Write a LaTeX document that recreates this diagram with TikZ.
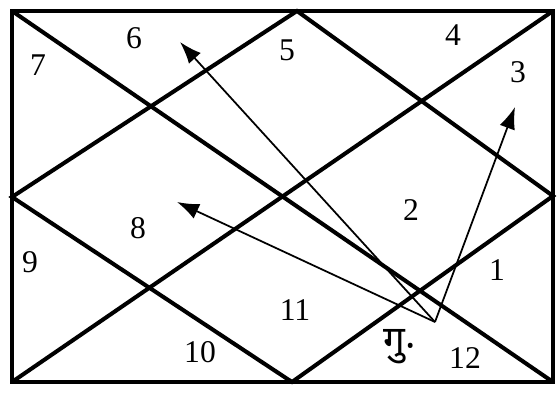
\documentclass[tikz,border=0pt]{standalone}
\usepackage{fontspec}
\setmainfont{Liberation Serif}
\newfontfamily\devfont[Script=Devanagari]{Noto Sans}
\usetikzlibrary{arrows.meta}
\begin{document}
\begin{tikzpicture}[
    chart/.style={line width=2.3pt},
    house/.style={font=\fontsize{18}{20}\selectfont},
    aspect/.style={line width=1pt,-{Latex[length=4.4mm,width=3.2mm]}}]
            \useasboundingbox (0,0) rectangle (11.16,7.86);
            \coordinate (tl) at (0.24,7.64);
            \coordinate (tr) at (11.06,7.64);
            \coordinate (bl) at (0.24,0.22);
            \coordinate (br) at (11.06,0.22);
            \coordinate (tm) at (5.94,7.64);
            \coordinate (bm) at (5.84,0.22);
            \coordinate (lm) at (0.24,3.92);
            \coordinate (rm) at (11.06,3.94);
            \draw[chart,line width=2.7pt] (tl) rectangle (br);
            \draw[chart] (tl) -- (br);
            \draw[chart] (bl) -- (tr);
            \draw[chart] (tm) -- (rm) -- (bm) -- (lm) -- cycle;
            \node[house] (h1) at (9.94,2.46) {1};
            \node[house] (h2) at (8.22,3.66) {2};
            \node[house] (h3) at (10.36,6.42) {3};
            \node[house] (h4) at (9.06,7.16) {4};
            \node[house] (h5) at (5.74,6.86) {5};
            \node[house] (h6) at (2.68,7.10) {6};
            \node[house] (h7) at (0.76,6.56) {7};
            \node[house] (h8) at (2.76,3.30) {8};
            \node[house] (h9) at (0.60,2.62) {9};
            \node[house] (h10) at (4.00,0.82) {10};
            \node[house] (h11) at (5.90,1.66) {11};
            \node[house] (h12) at (9.30,0.70) {12};
            \node[font=\fontsize{22}{24}\selectfont,anchor=west,inner sep=0pt] (guru) at (7.66,0.92) {\devfont गु\raisebox{-1.2mm}{·}};
            \coordinate (src) at (8.70,1.42);
            \coordinate (tip6) at (3.60,7.02);
            \coordinate (tip8) at (3.54,3.82);
            \coordinate (tip3) at (10.30,5.72);
            \draw[aspect] (src) -- (tip6);
            \draw[aspect] (src) -- (tip8);
            \draw[aspect] (src) -- (tip3);
        \end{tikzpicture}
\end{document}
